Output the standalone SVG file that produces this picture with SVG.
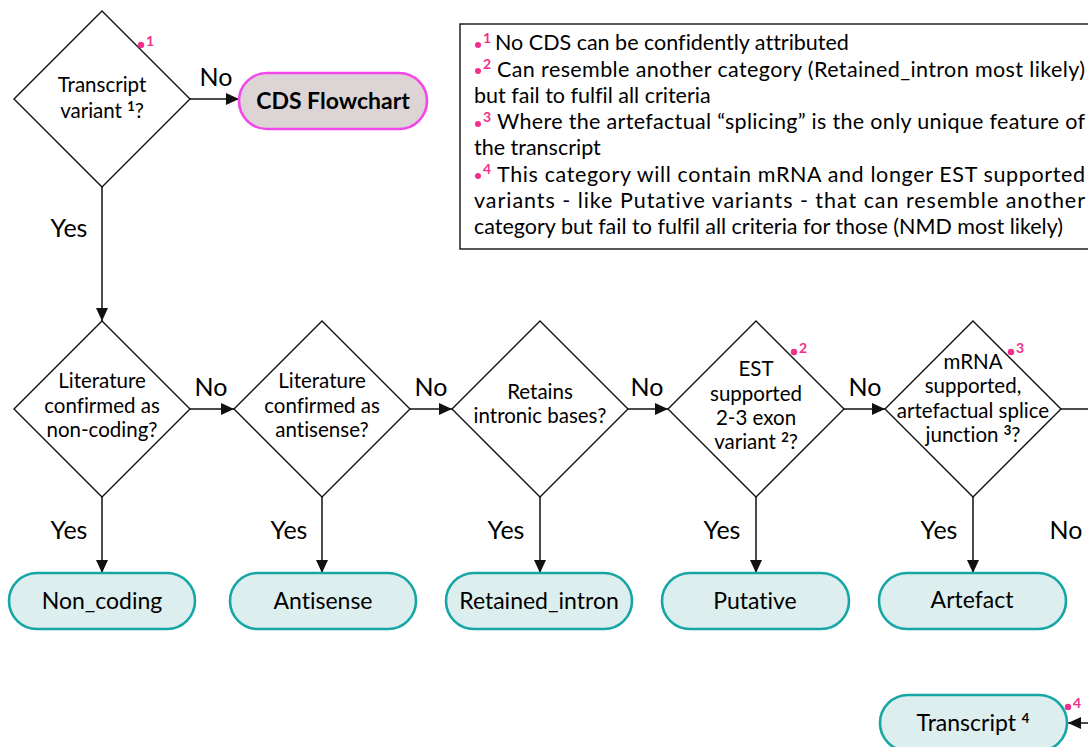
<svg xmlns="http://www.w3.org/2000/svg" width="1088" height="747" viewBox="0 0 1088 747">
  <style>
    text { font-family: Lato, "Open Sans", "Liberation Sans", sans-serif; fill: #000; font-variant-ligatures: none; }
    .q { font-size: 20.5px; text-anchor: middle; }
    .lbl { font-size: 25px; text-anchor: middle; }
    .leaf { font-size: 23px; text-anchor: middle; }
    .note { font-size: 21.5px; }
    .mark { font-size: 14px; font-weight: bold; fill: #f0308a; }
    .sup { font-size: 13px; font-weight: bold; }
    .diamond { fill: #fff; stroke: #111; stroke-width: 1.4; }
    .pill { fill: #ddeeee; stroke: #17a6a6; stroke-width: 2.6; }
    .cds { fill: #ddd5d5; stroke: #f247ea; stroke-width: 2.6; }
    .edge { fill: none; stroke: #111; stroke-width: 1.5; }
    .dot { fill: #f0308a; }
  </style>
  <defs>
    <marker id="arrow" markerUnits="userSpaceOnUse" markerWidth="13" markerHeight="12" refX="13" refY="6" orient="auto">
      <path d="M0,0 L13,6 L0,12 z" fill="#111"/>
    </marker>
  </defs>

  <!-- footnote box -->
  <g id="notes">
    <rect x="460" y="24" width="640" height="225" fill="#fff" stroke="#111" stroke-width="1.4"/>
    <circle class="dot" cx="478" cy="45" r="3"/>
    <text class="mark" x="483" y="43">1</text>
    <text class="note" x="495" y="50">No CDS can be confidently attributed</text>
    <circle class="dot" cx="478" cy="71" r="3"/>
    <text class="mark" x="483" y="69">2</text>
    <text class="note" x="497" y="77" textLength="588" lengthAdjust="spacing">Can resemble another category (Retained_intron most likely)</text>
    <text class="note" x="474" y="103">but fail to fulfil all criteria</text>
    <circle class="dot" cx="478" cy="124" r="3"/>
    <text class="mark" x="483" y="122">3</text>
    <text class="note" x="497" y="129" textLength="588" lengthAdjust="spacing">Where the artefactual “splicing” is the only unique feature of</text>
    <text class="note" x="474" y="155">the transcript</text>
    <circle class="dot" cx="478" cy="176" r="3"/>
    <text class="mark" x="483" y="174">4</text>
    <text class="note" x="497" y="182" textLength="588" lengthAdjust="spacing">This category will contain mRNA and longer EST supported</text>
    <text class="note" x="474" y="208" textLength="611" lengthAdjust="spacing">variants - like Putative variants - that can resemble another</text>
    <text class="note" x="474" y="234">category but fail to fulfil all criteria for those (NMD most likely)</text>
  </g>

  <!-- connectors -->
  <g id="connectors">
    <line class="edge" x1="190" y1="99" x2="239" y2="99" marker-end="url(#arrow)"/>
    <line class="edge" x1="102" y1="187" x2="102" y2="321" marker-end="url(#arrow)"/>
    <line class="edge" x1="190" y1="409" x2="234" y2="409" marker-end="url(#arrow)"/>
    <line class="edge" x1="410" y1="409" x2="452" y2="409" marker-end="url(#arrow)"/>
    <line class="edge" x1="628" y1="409" x2="668" y2="409" marker-end="url(#arrow)"/>
    <line class="edge" x1="844" y1="409" x2="885" y2="409" marker-end="url(#arrow)"/>
    <line class="edge" x1="1061" y1="409" x2="1090" y2="409"/>
    <line class="edge" x1="102" y1="497" x2="102" y2="573" marker-end="url(#arrow)"/>
    <line class="edge" x1="322" y1="497" x2="322" y2="573" marker-end="url(#arrow)"/>
    <line class="edge" x1="540" y1="497" x2="540" y2="573" marker-end="url(#arrow)"/>
    <line class="edge" x1="756" y1="497" x2="756" y2="573" marker-end="url(#arrow)"/>
    <line class="edge" x1="973" y1="497" x2="973" y2="573" marker-end="url(#arrow)"/>
    <line class="edge" x1="1090" y1="723" x2="1068" y2="723" marker-end="url(#arrow)"/>
    <text class="lbl" x="216" y="86">No</text>
    <text class="lbl" x="69" y="237">Yes</text>
    <text class="lbl" x="211" y="396">No</text>
    <text class="lbl" x="431" y="396">No</text>
    <text class="lbl" x="647" y="396">No</text>
    <text class="lbl" x="865" y="396">No</text>
    <text class="lbl" x="69" y="539">Yes</text>
    <text class="lbl" x="289" y="539">Yes</text>
    <text class="lbl" x="506" y="539">Yes</text>
    <text class="lbl" x="722" y="539">Yes</text>
    <text class="lbl" x="939" y="539">Yes</text>
    <text class="lbl" x="1066" y="539">No</text>
  </g>

  <!-- decisions -->
  <g id="q-variant">
    <polygon class="diamond" points="102,11 190,99 102,187 14,99"/>
    <text class="q" x="102" y="92">Transcript</text>
    <text class="q" x="102" y="118">variant <tspan class="sup" dy="-7">1</tspan><tspan dy="7">?</tspan></text>
    <circle class="dot" cx="141" cy="45" r="3.2"/>
    <text class="mark" x="146" y="46">1</text>
  </g>
  <g id="q-noncoding">
    <polygon class="diamond" points="102,321 190,409 102,497 14,409"/>
    <text class="q" x="102" y="388">Literature</text>
    <text class="q" x="102" y="413">confirmed as</text>
    <text class="q" x="102" y="437">non-coding?</text>
  </g>
  <g id="q-antisense">
    <polygon class="diamond" points="322,321 410,409 322,497 234,409"/>
    <text class="q" x="322" y="388">Literature</text>
    <text class="q" x="322" y="413">confirmed as</text>
    <text class="q" x="322" y="437">antisense?</text>
  </g>
  <g id="q-intron">
    <polygon class="diamond" points="540,321 628,409 540,497 452,409"/>
    <text class="q" x="540" y="399">Retains</text>
    <text class="q" x="540" y="423">intronic bases?</text>
  </g>
  <g id="q-est">
    <polygon class="diamond" points="756,321 844,409 756,497 668,409"/>
    <text class="q" x="756" y="376">EST</text>
    <text class="q" x="756" y="401">supported</text>
    <text class="q" x="756" y="425">2-3 exon</text>
    <text class="q" x="756" y="449">variant <tspan class="sup" dy="-7">2</tspan><tspan dy="7">?</tspan></text>
    <circle class="dot" cx="794" cy="352" r="3.2"/>
    <text class="mark" x="799" y="353">2</text>
  </g>
  <g id="q-mrna">
    <polygon class="diamond" points="973,321 1061,409 973,497 885,409"/>
    <text class="q" x="973" y="369">mRNA</text>
    <text class="q" x="973" y="393">supported,</text>
    <text class="q" x="973" y="418">artefactual splice</text>
    <text class="q" x="973" y="442">junction <tspan class="sup" dy="-7">3</tspan><tspan dy="7">?</tspan></text>
    <circle class="dot" cx="1011" cy="352" r="3.2"/>
    <text class="mark" x="1016" y="353">3</text>
  </g>

  <!-- outcomes -->
  <g id="cds-flowchart">
    <rect class="cds" x="239" y="73" width="188" height="56" rx="28"/>
    <text x="333" y="109" font-size="23" font-weight="bold" text-anchor="middle">CDS Flowchart</text>
  </g>
  <g id="non-coding">
    <rect class="pill" x="9" y="573" width="186" height="56" rx="28"/>
    <text class="leaf" x="102" y="609">Non_coding</text>
  </g>
  <g id="antisense">
    <rect class="pill" x="230" y="573" width="186" height="56" rx="28"/>
    <text class="leaf" x="323" y="609">Antisense</text>
  </g>
  <g id="retained-intron">
    <rect class="pill" x="446" y="573" width="186" height="56" rx="28"/>
    <text class="leaf" x="539" y="609">Retained_intron</text>
  </g>
  <g id="putative">
    <rect class="pill" x="662" y="573" width="187" height="56" rx="28"/>
    <text class="leaf" x="755" y="609">Putative</text>
  </g>
  <g id="artefact">
    <rect class="pill" x="879" y="573" width="187" height="56" rx="28"/>
    <text class="leaf" x="972" y="608">Artefact</text>
  </g>
  <g id="transcript">
    <rect class="pill" x="880" y="695" width="187" height="56" rx="28"/>
    <text class="leaf" x="973" y="731">Transcript <tspan class="sup" font-size="14" dy="-8">4</tspan></text>
    <circle class="dot" cx="1068" cy="707" r="3.2"/>
    <text class="mark" x="1073" y="708">4</text>
  </g>
</svg>
